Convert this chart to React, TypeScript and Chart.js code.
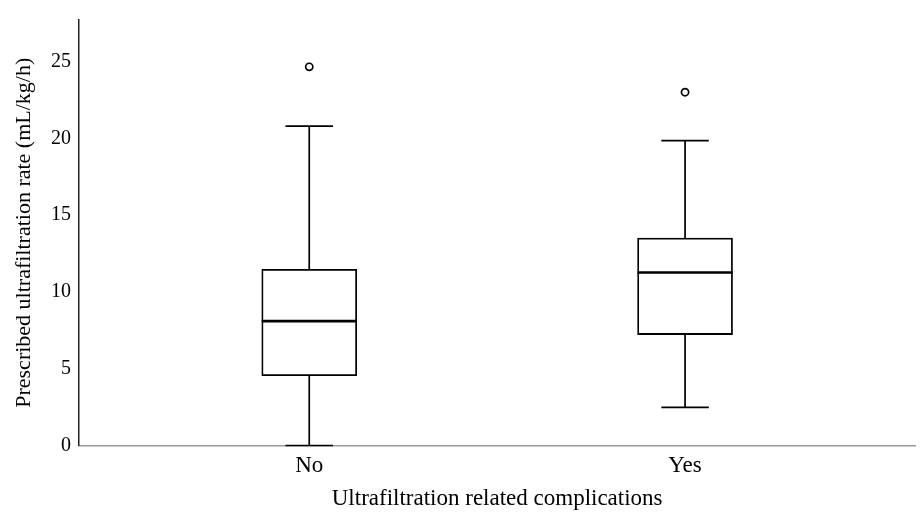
import React, { useEffect, useRef } from 'react';
import { Chart, registerables } from 'chart.js';

Chart.register(...registerables);

const categories = ['No', 'Yes'];
const q1 = [4.54, 7.22];
const q3 = [11.47, 13.51];
const medians = [8.1, 11.26];
const whiskerLow = [0, 2.48];
const whiskerHigh = [20.79, 19.85];
const outliers = [24.65, 23.0];
const yTicks = [0, 5, 10, 15, 20, 25];
const yMin = 0;
const yMax = 27.7;
const xMin = -0.6127;
const xMax = 1.6127;

const FONT = "'Liberation Serif', 'Times New Roman', serif";

const boxPlugin = {
  id: 'boxWhiskers',
  afterDatasetsDraw(chart: any) {
    const { ctx, scales } = chart;
    const xs = scales.x;
    const ys = scales.y;
    const meta = chart.getDatasetMeta(0);
    ctx.save();
    ctx.strokeStyle = '#000';
    ctx.lineCap = 'butt';
    categories.forEach((_, i) => {
      const el = meta.data[i];
      const cx = xs.getPixelForValue(i);
      const half = el.width / 2;
      const capHalf = el.width / 4;
      const yQ1 = ys.getPixelForValue(q1[i]);
      const yQ3 = ys.getPixelForValue(q3[i]);
      const yLo = ys.getPixelForValue(whiskerLow[i]);
      const yHi = ys.getPixelForValue(whiskerHigh[i]);
      const yMed = ys.getPixelForValue(medians[i]);
      ctx.lineWidth = 1.7;
      ctx.beginPath();
      ctx.moveTo(cx, yQ3);
      ctx.lineTo(cx, yHi);
      ctx.moveTo(cx, yQ1);
      ctx.lineTo(cx, yLo);
      ctx.moveTo(cx - capHalf, yHi);
      ctx.lineTo(cx + capHalf, yHi);
      ctx.moveTo(cx - capHalf, yLo);
      ctx.lineTo(cx + capHalf, yLo);
      ctx.stroke();
      ctx.lineWidth = 2.6;
      ctx.beginPath();
      ctx.moveTo(cx - half, yMed);
      ctx.lineTo(cx + half, yMed);
      ctx.stroke();
    });
    ctx.restore();
  },
};

export default function App() {
  const ref = useRef<HTMLCanvasElement | null>(null);
  useEffect(() => {
    if (!ref.current) return;
    const chart = new Chart(ref.current, {
      type: 'bar',
      data: {
        datasets: [
          {
            type: 'bar',
            data: categories.map((_, i) => ({ x: i, y: [q1[i], q3[i]] })) as any,
            backgroundColor: '#ffffff',
            borderColor: '#000000',
            borderWidth: 1.8,
            borderSkipped: false,
            barThickness: 95,
            order: 2,
          } as any,
          {
            type: 'scatter',
            data: categories.map((_, i) => ({ x: i, y: outliers[i] })),
            pointRadius: 3.6,
            pointBorderWidth: 1.7,
            borderColor: '#000000',
            backgroundColor: '#ffffff',
            order: 1,
          } as any,
        ],
      },
      options: {
        animation: false,
        responsive: true,
        maintainAspectRatio: false,
        layout: { padding: { top: 15, right: 3, left: 0, bottom: 0 } },
        plugins: { legend: { display: false }, tooltip: { enabled: false } },
        scales: {
          x: {
            type: 'linear',
            offset: false,
            min: xMin,
            max: xMax,
            grid: { display: false, drawTicks: false },
            border: { display: true, color: '#9a9a9a', width: 1.5 },
            afterBuildTicks: (scale: any) => {
              scale.ticks = categories.map((_, i) => ({ value: i }));
            },
            afterFit: (scale: any) => {
              scale.height = 67.5;
            },
            ticks: {
              color: '#000',
              padding: 7,
              font: { family: FONT, size: 23 },
              callback: (v: any) => categories[v] ?? '',
              maxRotation: 0,
              autoSkip: false,
            },
            title: {
              display: true,
              text: 'Ultrafiltration related complications',
              color: '#000',
              font: { family: FONT, size: 23 },
              padding: { top: 4, bottom: 0 },
            },
          },
          y: {
            type: 'linear',
            min: yMin,
            max: yMax,
            grid: { display: false, drawTicks: false },
            border: { display: true, color: '#222', width: 1.5 },
            afterBuildTicks: (scale: any) => {
              scale.ticks = yTicks.map((v) => ({ value: v }));
            },
            afterFit: (scale: any) => {
              scale.width = 79;
            },
            ticks: {
              color: '#000',
              padding: 8,
              font: { family: FONT, size: 20 },
            },
            title: {
              display: true,
              text: 'Prescribed ultrafiltration rate (mL/kg/h)',
              color: '#000',
              font: { family: FONT, size: 22 },
              padding: { top: 11, bottom: 0 },
            },
          },
        },
      } as any,
      plugins: [boxPlugin],
    });
    return () => chart.destroy();
  }, []);
  return (
    <div style={{ position: 'fixed', left: 0, top: 0, width: 921, height: 513, background: '#fff' }}>
      <canvas ref={ref} />
    </div>
  );
}
